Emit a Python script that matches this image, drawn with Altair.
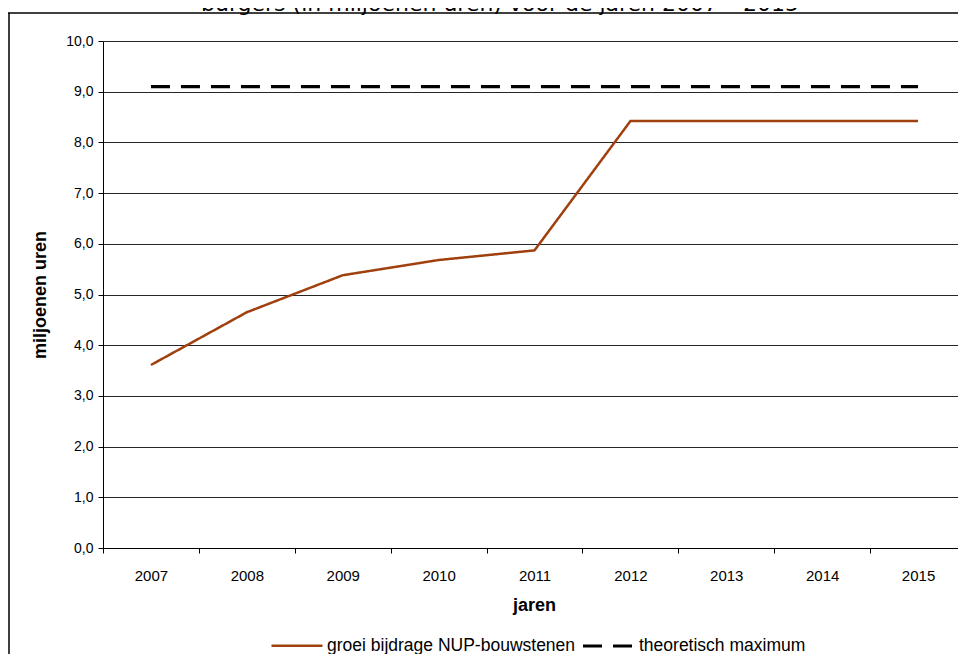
import altair as alt
import pandas as pd

# ---- data ----
years = ["2007", "2008", "2009", "2010", "2011", "2012", "2013", "2014", "2015"]
groei = [3.61, 4.65, 5.38, 5.68, 5.87, 8.42, 8.42, 8.42, 8.42]
maximum = [9.1, 9.1, 9.1, 9.1, 9.1, 9.1, 9.1, 9.1, 9.1]
series_names = ["groei bijdrage NUP-bouwstenen", "theoretisch maximum"]
series_colors = ["#A0400E", "#000000"]
title_text = "burgers (in miljoenen uren) voor de jaren 2007 \u2013 2015"
y_ticks = [0, 1, 2, 3, 4, 5, 6, 7, 8, 9, 10]

rows = []
for yr, v in zip(years, groei):
    rows.append({"jaar": yr, "waarde": v, "reeks": series_names[0]})
for yr, v in zip(years, maximum):
    rows.append({"jaar": yr, "waarde": v, "reeks": series_names[1]})
df = pd.DataFrame(rows)

FONT = "Liberation Sans"
W, H = 855, 507

x_enc = alt.X(
    "jaar:O",
    sort=years,
    scale=alt.Scale(paddingInner=0, paddingOuter=0, range=[0, 863]),
    axis=alt.Axis(
        title="jaren",
        titleFont=FONT, titleFontSize=18, titleFontWeight="bold", titleColor="#000",
        titleY=57, titleBaseline="middle", titleX=431,
        labelFont=FONT, labelFontSize=15, labelColor="#000", labelPadding=15,
        labelAngle=0,
        tickBand="extent", tickSize=5, tickColor="#000",
        domainColor="#000", grid=False,
    ),
)
y_enc = alt.Y(
    "waarde:Q",
    scale=alt.Scale(domain=[0, 10], nice=False, zero=True),
    axis=alt.Axis(
        title="miljoenen uren",
        titleFont=FONT, titleFontSize=18, titleFontWeight="bold", titleColor="#000",
        titleX=-63, titleBaseline="middle",
        values=y_ticks,
        labelExpr="replace(format(datum.value, '.1f'), '.', ',')",
        labelFont=FONT, labelFontSize=14, labelColor="#000", labelPadding=5,
        tickSize=5, tickColor="#000", domainColor="#000",
        grid=True, gridColor="#000", gridOpacity=0.85, gridWidth=1,
    ),
)

lines = alt.Chart(df).mark_line().encode(
    x=x_enc,
    y=y_enc,
    color=alt.Color(
        "reeks:N",
        scale=alt.Scale(domain=series_names, range=series_colors),
        legend=alt.Legend(title=None),
    ),
    strokeDash=alt.StrokeDash(
        "reeks:N",
        scale=alt.Scale(domain=series_names, range=[[1, 0], [19, 11]]),
        legend=alt.Legend(title=None),
    ),
    strokeWidth=alt.StrokeWidth(
        "reeks:N",
        scale=alt.Scale(domain=series_names, range=[2.5, 3.2]),
        legend=None,
    ),
)

# outer chart frame (left and top edges visible in the reference)
frame_left = alt.Chart(alt.Data(values=[{}])).mark_rule(
    color="#000", strokeWidth=1.5
).encode(x=alt.value(-94), y=alt.value(-28), y2=alt.value(620))
frame_top = alt.Chart(alt.Data(values=[{}])).mark_rule(
    color="#000", strokeWidth=1.5
).encode(x=alt.value(-95), x2=alt.value(855), y=alt.value(-28))

top_title = alt.Chart(alt.Data(values=[{}])).mark_text(
    font="DejaVu Sans", fontSize=22, baseline="alphabetic", align="center", color="#000"
).encode(
    x=alt.value(397), y=alt.value(-30.5), text=alt.value(title_text)
)

chart = alt.layer(frame_left, frame_top, top_title, lines).properties(
    width=W, height=H,
    autosize=alt.AutoSizeParams(type="none"),
    padding={"left": 95, "top": 33, "right": 0, "bottom": 106},
).configure_view(stroke=None).configure_legend(
    orient="none", legendX=184, legendY=594.5, direction="horizontal",
    labelFont=FONT, labelFontSize=17.5, labelColor="#000", labelLimit=0,
    symbolType="M-3,0H3", symbolSize=289, symbolStrokeWidth=3,
    labelOffset=20, columnPadding=0, padding=0,
)

chart.save("out.html", embed_options={"renderer": "svg", "actions": False})
